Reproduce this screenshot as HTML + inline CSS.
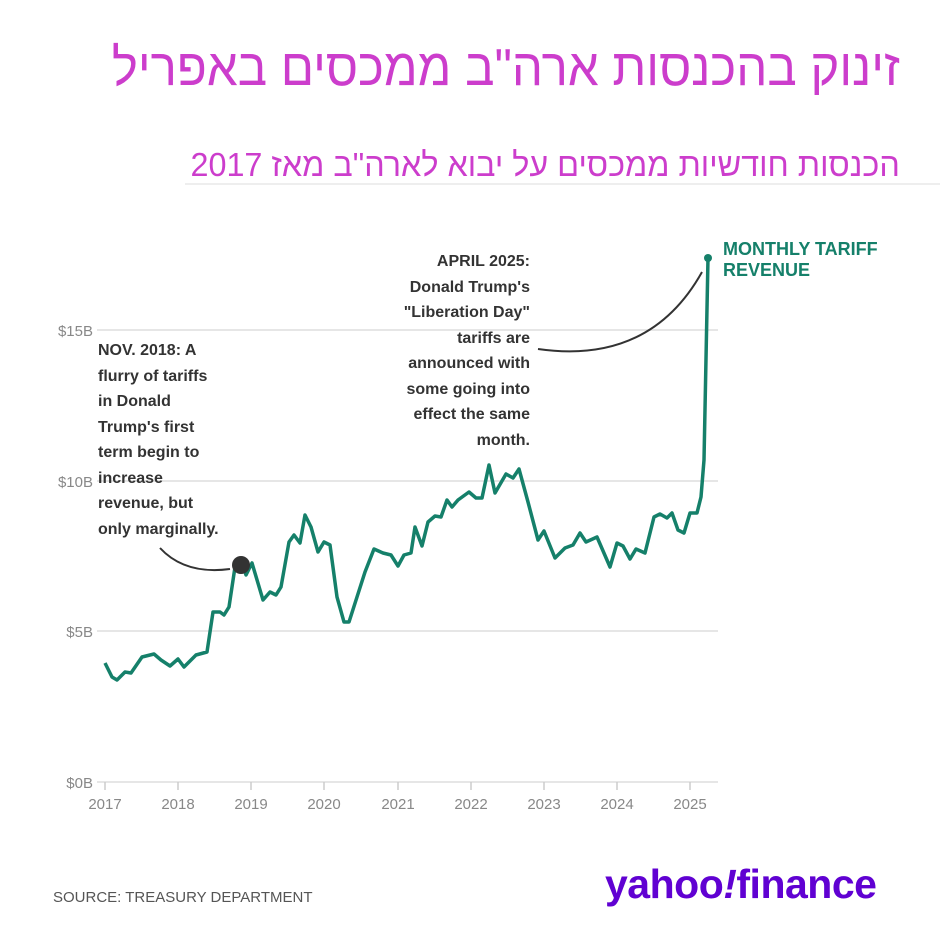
<!DOCTYPE html>
<html><head><meta charset="utf-8"><style>
body{margin:0;width:945px;height:927px;background:#fff;overflow:hidden;position:relative;font-family:"Liberation Sans",sans-serif}
.t{position:absolute;right:45px;color:#cc3dcc;direction:rtl;font-family:"Liberation Sans","Noto Sans CJK SC",sans-serif;white-space:nowrap}
</style></head><body>
<div class="t" style="top:38px;font-size:52px;transform:scaleX(0.945);transform-origin:right">זינוק בהכנסות ארה"ב ממכסים באפריל</div>
<div class="t" style="top:146px;font-size:33px;transform:scaleX(0.98);transform-origin:right">הכנסות חודשיות ממכסים על יבוא לארה"ב מאז 2017</div>
<div style="position:absolute;left:185px;top:183px;width:755px;height:2px;background:#eee"></div>
<svg width="945" height="927" style="position:absolute;left:0;top:0">
<g stroke="#ddd" stroke-width="1.5">
<line x1="97" y1="330" x2="718" y2="330"/><line x1="97" y1="481" x2="718" y2="481"/><line x1="97" y1="631" x2="718" y2="631"/><line x1="97" y1="782" x2="718" y2="782"/>
</g>
<g stroke="#ccc" stroke-width="1.5">
<line x1="105" y1="782" x2="105" y2="790"/><line x1="178" y1="782" x2="178" y2="790"/><line x1="251" y1="782" x2="251" y2="790"/><line x1="324" y1="782" x2="324" y2="790"/><line x1="398" y1="782" x2="398" y2="790"/><line x1="471" y1="782" x2="471" y2="790"/><line x1="544" y1="782" x2="544" y2="790"/><line x1="617" y1="782" x2="617" y2="790"/><line x1="690" y1="782" x2="690" y2="790"/>
</g>
<g font-family="Liberation Sans,sans-serif" font-size="15" fill="#888">
<text x="93" y="336" text-anchor="end">$15B</text><text x="93" y="487" text-anchor="end">$10B</text><text x="93" y="637" text-anchor="end">$5B</text><text x="93" y="788" text-anchor="end">$0B</text>
<g text-anchor="middle"><text x="105" y="809">2017</text><text x="178" y="809">2018</text><text x="251" y="809">2019</text><text x="324" y="809">2020</text><text x="398" y="809">2021</text><text x="471" y="809">2022</text><text x="544" y="809">2023</text><text x="617" y="809">2024</text><text x="690" y="809">2025</text></g>
</g>
<polyline fill="none" stroke="#15806a" stroke-width="3.5" stroke-linejoin="round" points="105,663 112,677 117,680 125,672 131,673 142,657 154,654 161,660 170,666 178,659 184,667 196,655 207,652 213,612 220,612 224,615 229,607 235,567 242,563 246,575 252,563 263,600 270,592 276,595 281,587 289,542 294,535 300,543 305,515 311,527 318,552 324,542 330,545 337,597 344,622 349,622 357,597 365,572 374,549 383,553 391,555 398,566 404,555 411,553 415,527 422,546 428,522 435,516 441,517 447,500 452,507 458,500 469,492 476,498 482,498 489,465 495,493 506,474 513,478 519,469 528,502 538,540 544,531 555,558 565,548 573,545 580,533 586,542 597,537 610,567 617,543 623,546 630,559 636,549 645,553 654,517 660,514 667,518 672,513 678,530 684,533 690,513 697,513 701,497 704,460 708,258"/>
<circle cx="708" cy="258" r="4" fill="#15806a"/>
<circle cx="241" cy="565" r="9" fill="#333"/>
<path d="M160,548 Q185,575 230,569" fill="none" stroke="#333" stroke-width="2"/>
<path d="M538,349 Q650,365 702,272" fill="none" stroke="#333" stroke-width="2"/>
<g font-family="Liberation Sans,sans-serif" font-weight="bold" font-size="16" fill="#333">
<text x="98" y="355">NOV. 2018: A</text><text x="98" y="381">flurry of tariffs</text><text x="98" y="406">in Donald</text><text x="98" y="432">Trump's first</text><text x="98" y="457">term begin to</text><text x="98" y="483">increase</text><text x="98" y="508">revenue, but</text><text x="98" y="534">only marginally.</text>
<g text-anchor="end"><text x="530" y="266">APRIL 2025:</text><text x="530" y="292">Donald Trump's</text><text x="530" y="317">"Liberation Day"</text><text x="530" y="343">tariffs are</text><text x="530" y="368">announced with</text><text x="530" y="394">some going into</text><text x="530" y="419">effect the same</text><text x="530" y="445">month.</text></g>
<g fill="#15806a" font-size="18"><text x="723" y="255">MONTHLY TARIFF</text><text x="723" y="276">REVENUE</text></g>
</g>
<text x="53" y="902" font-size="15" fill="#555" font-family="Liberation Sans,sans-serif">SOURCE: TREASURY DEPARTMENT</text>
<text x="605" y="898" font-size="41" font-weight="bold" fill="#6001d2" font-family="Liberation Sans,sans-serif" letter-spacing="-0.5">yahoo<tspan font-style="italic">!</tspan>finance</text>
</svg>
</body></html>
